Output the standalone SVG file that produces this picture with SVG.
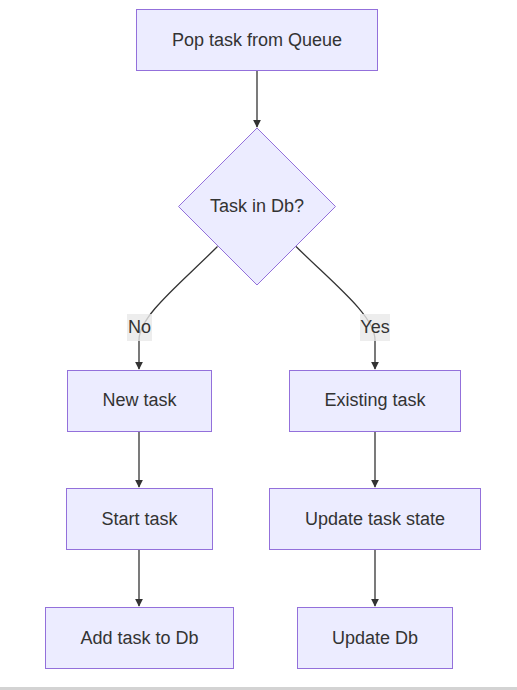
<svg xmlns="http://www.w3.org/2000/svg" width="517" height="690" viewBox="0 0 517 690">
<style>
.n{fill:#ECECFF;stroke:#9370DB;stroke-width:1px}
text{font-family:"Liberation Sans",Arial,sans-serif;font-size:18px;fill:#333;text-anchor:middle;dominant-baseline:central}
.e{fill:none;stroke:#333;stroke-width:1.3px}
.lb{fill:#E8E8E8;opacity:0.8}
</style>
<defs>
<marker id="ah" viewBox="0 0 10 10" refX="9" refY="5" markerWidth="8" markerHeight="8" markerUnits="userSpaceOnUse" orient="auto">
<path d="M0,0 L10,5 L0,10 z" fill="#333"/>
</marker>
</defs>
<rect x="0" y="0" width="517" height="690" fill="#fff"/>
<rect x="0" y="687" width="517" height="3" fill="#D3D3D3"/>
<g id="edges">
<path class="e" d="M257,71 L257,127" marker-end="url(#ah)"/>
<path class="e" d="M217.5,246.5 C180,284 139,316 139,340 L139,369" marker-end="url(#ah)"/>
<path class="e" d="M296,246.5 C334,284 375,316 375,340 L375,369" marker-end="url(#ah)"/>
<path class="e" d="M139,431 L139,487" marker-end="url(#ah)"/>
<path class="e" d="M375,431 L375,487" marker-end="url(#ah)"/>
<path class="e" d="M139,550 L139,606" marker-end="url(#ah)"/>
<path class="e" d="M375,550 L375,606" marker-end="url(#ah)"/>
</g>
<g id="label-no"><rect class="lb" x="127" y="314" width="25" height="27"/><text x="139.5" y="327">No</text></g>
<g id="label-yes"><rect class="lb" x="360" y="314" width="30" height="27"/><text x="375" y="327">Yes</text></g>
<g id="pop"><rect class="n" x="136.5" y="9.5" width="241" height="61"/><text x="257" y="39.5">Pop task from Queue</text></g>
<g id="check"><polygon class="n" points="257,128 335.5,206.5 257,285 178.5,206.5"/><text x="257" y="206">Task in Db?</text></g>
<g id="new"><rect class="n" x="67.5" y="370.5" width="144" height="61"/><text x="139.5" y="400">New task</text></g>
<g id="existing"><rect class="n" x="289.5" y="370.5" width="171" height="61"/><text x="375" y="400">Existing task</text></g>
<g id="start"><rect class="n" x="66.5" y="488.5" width="146" height="61"/><text x="139.5" y="519">Start task</text></g>
<g id="updstate"><rect class="n" x="269.5" y="488.5" width="211" height="61"/><text x="375" y="519">Update task state</text></g>
<g id="add"><rect class="n" x="45.5" y="607.5" width="188" height="61"/><text x="139.5" y="638">Add task to Db</text></g>
<g id="upddb"><rect class="n" x="297.5" y="607.5" width="155" height="61"/><text x="375" y="638">Update Db</text></g>
</svg>
